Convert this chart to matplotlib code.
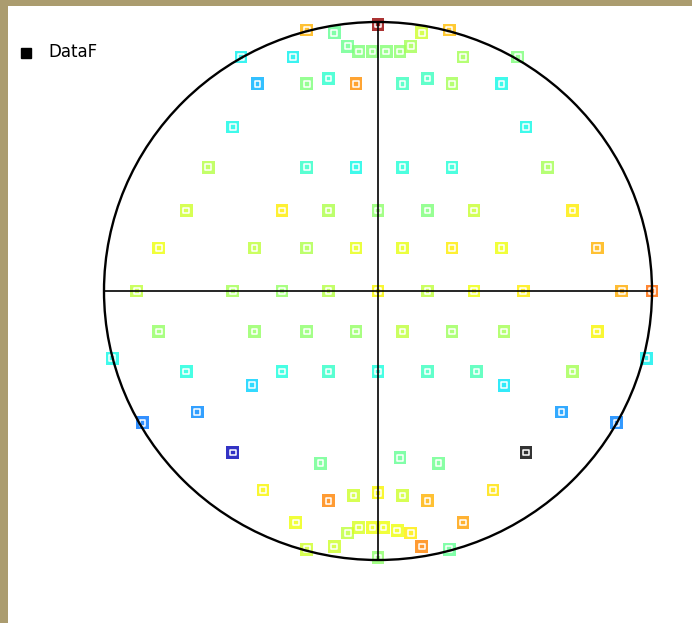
import matplotlib
matplotlib.use('Agg')
import matplotlib.pyplot as plt
from matplotlib.patches import Ellipse, Rectangle
from matplotlib.lines import Line2D
import numpy as np

# point positions on the unit net (x, y) and the value used for colouring
xs = [-0.26, -0.16, 0.00, 0.16, 0.26, -0.11, -0.07, -0.02, 0.03, 0.08, 0.12,
      -0.50, -0.31, 0.31, 0.51, -0.44, -0.26, -0.18, -0.08, 0.09, 0.18, 0.27, 0.45,
      -0.53, 0.54,
      -0.62, -0.26, -0.08, 0.09, 0.27, 0.62,
      -0.70, -0.35, -0.18, 0.00, 0.18, 0.35, 0.71,
      -0.80, -0.45, -0.26, -0.08, 0.09, 0.27, 0.45, 0.80,
      -0.88, -0.53, -0.35, -0.18, 0.00, 0.18, 0.35, 0.53, 0.89, 1.00,
      -0.80, -0.45, -0.26, -0.08, 0.09, 0.27, 0.46, 0.80,
      -0.97, -0.70, -0.35, -0.18, 0.00, 0.18, 0.36, -0.46, 0.46, 0.71, 0.98,
      -0.86, -0.66, 0.67, 0.87,
      -0.53, 0.54, -0.21, 0.08, 0.22,
      -0.42, -0.18, -0.09, 0.00, 0.09, 0.18, 0.42,
      -0.30, 0.31, -0.11, -0.07, -0.02, 0.02, 0.07, 0.12,
      -0.16, 0.16, -0.26, 0.26, 0.00]
ys = [0.97, 0.96, 0.99, 0.96, 0.97, 0.91, 0.89, 0.89, 0.89, 0.89, 0.91,
      0.87, 0.87, 0.87, 0.87, 0.77, 0.77, 0.79, 0.77, 0.77, 0.79, 0.77, 0.77,
      0.61, 0.61,
      0.46, 0.46, 0.46, 0.46, 0.46, 0.46,
      0.30, 0.30, 0.30, 0.30, 0.30, 0.30, 0.30,
      0.16, 0.16, 0.16, 0.16, 0.16, 0.16, 0.16, 0.16,
      0.00, 0.00, 0.00, 0.00, 0.00, 0.00, 0.00, 0.00, 0.00, 0.00,
      -0.15, -0.15, -0.15, -0.15, -0.15, -0.15, -0.15, -0.15,
      -0.25, -0.30, -0.30, -0.30, -0.30, -0.30, -0.30, -0.35, -0.35, -0.30, -0.25,
      -0.49, -0.45, -0.45, -0.49,
      -0.60, -0.60, -0.64, -0.62, -0.64,
      -0.74, -0.78, -0.76, -0.75, -0.76, -0.78, -0.74,
      -0.86, -0.86, -0.90, -0.88, -0.88, -0.88, -0.89, -0.90,
      -0.95, -0.95, -0.96, -0.96, -0.99]
vals = [0.72, 0.47, 0.98, 0.60, 0.71, 0.48, 0.50, 0.51, 0.51, 0.52, 0.55,
        0.36, 0.36, 0.55, 0.50, 0.30, 0.50, 0.40, 0.76, 0.42, 0.42, 0.55, 0.37,
        0.37, 0.37,
        0.57, 0.41, 0.37, 0.39, 0.39, 0.55,
        0.60, 0.66, 0.56, 0.52, 0.50, 0.59, 0.66,
        0.64, 0.58, 0.56, 0.63, 0.63, 0.66, 0.64, 0.72,
        0.58, 0.55, 0.53, 0.57, 0.65, 0.58, 0.64, 0.66, 0.73, 0.80,
        0.53, 0.53, 0.52, 0.53, 0.58, 0.54, 0.55, 0.65,
        0.37, 0.38, 0.38, 0.41, 0.38, 0.42, 0.43, 0.33, 0.35, 0.55, 0.36,
        0.24, 0.26, 0.27, 0.25,
        0.05, 1.10, 0.48, 0.47, 0.48,
        0.65, 0.77, 0.60, 0.65, 0.60, 0.72, 0.67,
        0.64, 0.74, 0.58, 0.61, 0.64, 0.64, 0.64, 0.66,
        0.60, 0.77, 0.60, 0.47, 0.52]

cmap = plt.get_cmap('jet').copy()
cmap.set_over('black')

fig = plt.figure(figsize=(6.92, 6.23), dpi=100, facecolor='#ab9c6f')
# white drawing area with a thin frame on the left and top
fig.patches.append(Rectangle((8/692, 0), 1, 1 - 6/623, transform=fig.transFigure,
                             facecolor='white', edgecolor='none', zorder=-10))

ax = fig.add_axes([104/692, 63/623, 548/692, 538/623])
ax.set_zorder(1)
ax.set_xlim(-1, 1)
ax.set_ylim(-1, 1)
ax.axis('off')

# coloured squares with a white ring inside
ax.scatter(xs, ys, c=vals, cmap=cmap, vmin=0, vmax=1, marker='s', s=9.2**2,
           linewidths=0, alpha=0.8, zorder=2, clip_on=False)
ax.scatter(xs, ys, marker='s', s=4.0**2, facecolors='none', edgecolors='white',
           linewidths=1.1, zorder=3, clip_on=False)

# net outline and cross
ax.add_patch(Ellipse((0, 0), 2, 2, fill=False, edgecolor='black', lw=1.7,
                     zorder=4, clip_on=False))
ax.plot([-1, 1], [0, 0], color='black', lw=1.2, zorder=4, clip_on=False)
ax.plot([0, 0], [-1, 1], color='black', lw=1.2, zorder=4, clip_on=False)

# legend
fig.add_artist(Line2D([26/692], [1 - 53/623], marker='s', color='black', ms=6.5,
                      ls='', transform=fig.transFigure))
fig.text(48/692, 1 - 52/623, 'DataF', fontsize=12, va='center', ha='left')

plt.savefig('out.png', dpi=100, facecolor=fig.get_facecolor())
